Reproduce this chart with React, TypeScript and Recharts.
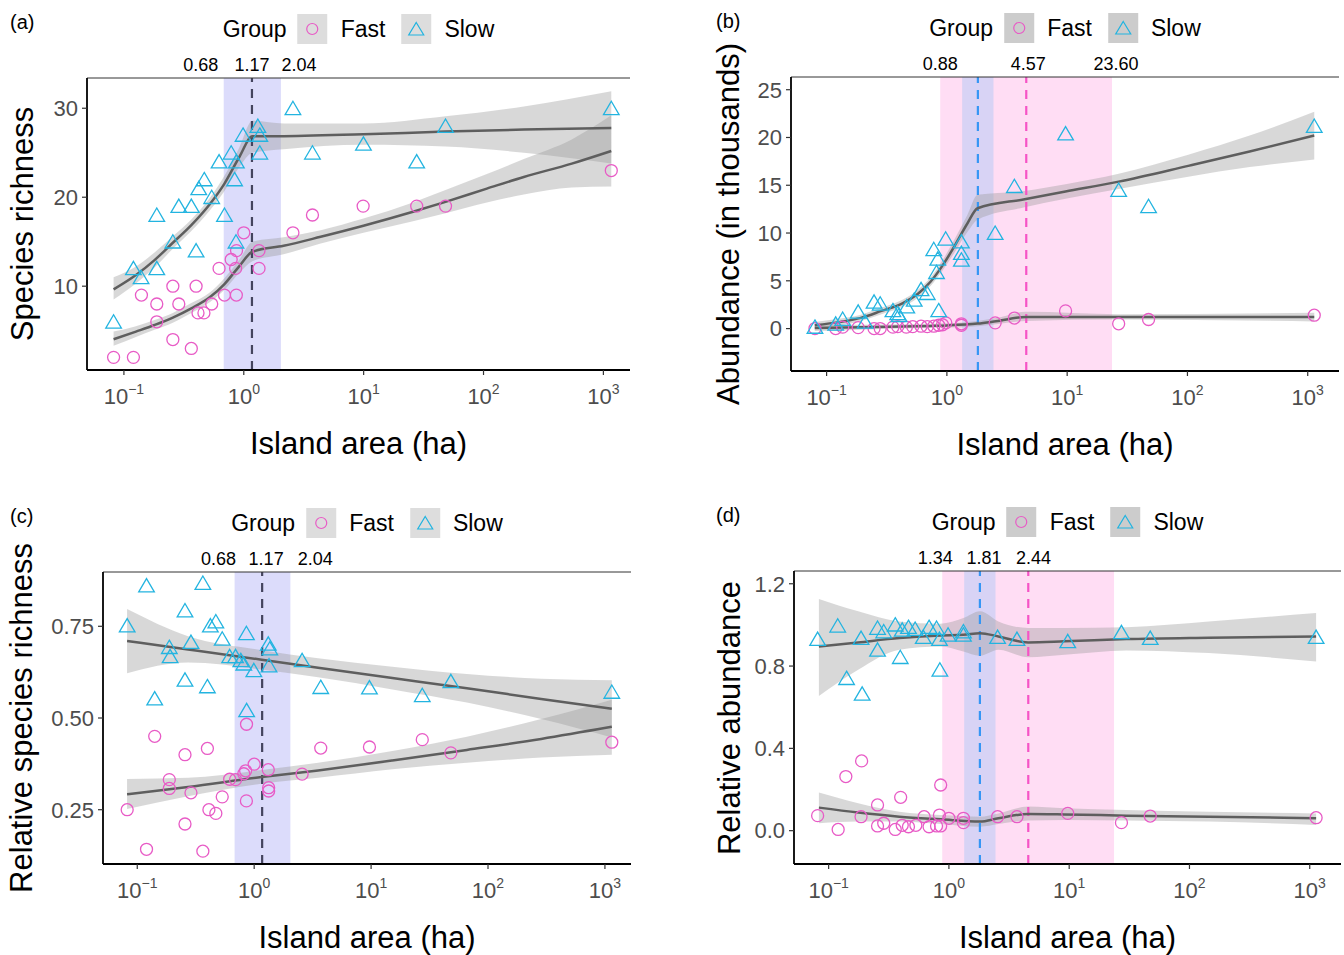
import React from 'react'
import { ComposedChart, Scatter, Line, Area, XAxis, YAxis, ReferenceArea, ReferenceLine } from 'recharts'

const FONT = '"Liberation Sans", Arial, Helvetica, sans-serif'
const FAST = '#E85BC6'
const SLOW = '#23B4E0'
const FIT = '#5E5E5E'

const xTicks = [0.1, 1, 10, 100, 1000]
const richTicks = [10, 20, 30]
const abunTicks = [0, 5, 10, 15, 20, 25]
const relRichTicks = [0.25, 0.5, 0.75]
const relAbunTicks = [0, 0.4, 0.8, 1.2]

// breakpoints (ha): lower CI, estimate, upper CI
const bpRich = [0.68, 1.17, 2.04]
const bpAbunSlow = [1.34, 1.81, 2.44]
const bpAbunFast = [0.88, 4.57, 23.6]

// [island area (ha), value]
const richFast: [number, number][] = [
  [0.082, 2], [0.12, 2], [0.14, 9], [0.188, 8], [0.188, 6], [0.256, 10], [0.256, 4], [0.287, 8],
  [0.365, 3], [0.4, 10], [0.415, 7], [0.465, 7], [0.54, 8], [0.622, 12], [0.69, 9], [0.785, 13],
  [0.855, 12], [0.867, 9], [0.87, 14], [1.0, 16], [1.34, 14], [1.34, 12], [2.57, 16], [3.74, 18],
  [9.9, 19], [27.7, 19], [48.2, 19], [1164, 23],
]
const richSlow: [number, number][] = [
  [0.082, 6], [0.12, 12], [0.139, 11], [0.188, 18], [0.188, 12], [0.256, 15], [0.287, 19], [0.365, 19],
  [0.4, 14], [0.421, 21], [0.468, 22], [0.54, 20], [0.622, 24], [0.69, 18], [0.785, 25], [0.838, 22],
  [0.861, 15], [0.867, 24], [0.986, 27], [1.31, 28], [1.36, 27], [1.36, 25], [2.57, 30], [3.74, 25],
  [9.96, 26], [27.7, 24], [48.2, 28], [1164, 30],
]
const abunFast: [number, number][] = [
  [0.08, 0.0], [0.119, 0.0], [0.136, 0.15], [0.183, 0.1], [0.248, 0.0], [0.279, 0.0], [0.356, 0.15],
  [0.39, 0.2], [0.46, 0.15], [0.52, 0.2], [0.61, 0.25], [0.687, 0.2], [0.778, 0.25], [0.855, 0.35],
  [0.92, 0.4], [0.98, 0.6], [1.32, 0.5], [1.32, 0.35], [2.52, 0.6], [3.64, 1.1], [9.7, 1.85],
  [26.8, 0.5], [47.5, 0.95], [1133, 1.4],
]
const abunSlow: [number, number][] = [
  [0.08, 0.17], [0.119, 0.5], [0.136, 1.0], [0.183, 1.75], [0.209, 0.7], [0.248, 2.8], [0.279, 2.6],
  [0.356, 1.9], [0.39, 1.6], [0.4, 1.4], [0.464, 2.3], [0.535, 3.0], [0.61, 4.1], [0.687, 3.7],
  [0.778, 8.3], [0.82, 5.9], [0.84, 7.3], [0.855, 1.9], [0.977, 9.4], [1.32, 9.1], [1.32, 7.9],
  [1.32, 7.2], [2.52, 10.0], [3.64, 14.9], [9.7, 20.4], [26.8, 14.5], [47.5, 12.8], [1133, 21.2],
]
const relRichFast: [number, number][] = [
  [0.082, 0.25], [0.12, 0.142], [0.141, 0.45], [0.188, 0.332], [0.188, 0.308], [0.256, 0.4],
  [0.256, 0.211], [0.288, 0.296], [0.364, 0.137], [0.398, 0.417], [0.41, 0.25], [0.47, 0.24],
  [0.533, 0.285], [0.617, 0.333], [0.693, 0.332], [0.815, 0.348], [0.845, 0.356], [0.858, 0.274],
  [0.86, 0.483], [1.0, 0.374], [1.32, 0.359], [1.33, 0.31], [1.33, 0.301], [2.57, 0.347],
  [3.71, 0.418], [9.68, 0.421], [27.4, 0.441], [48.1, 0.405], [1145, 0.434],
]
const relRichSlow: [number, number][] = [
  [0.082, 0.752], [0.12, 0.861], [0.141, 0.553], [0.188, 0.693], [0.191, 0.668], [0.256, 0.793],
  [0.288, 0.707], [0.256, 0.604], [0.364, 0.868], [0.398, 0.586], [0.422, 0.752], [0.47, 0.763],
  [0.533, 0.716], [0.617, 0.668], [0.693, 0.668], [0.769, 0.657], [0.815, 0.648], [0.858, 0.731],
  [0.862, 0.521], [0.993, 0.63], [1.32, 0.702], [1.36, 0.689], [1.34, 0.643], [2.57, 0.657],
  [3.71, 0.584], [9.68, 0.583], [27.4, 0.562], [48.1, 0.6], [1145, 0.571],
]
const relAbunFast: [number, number][] = [
  [0.081, 0.073], [0.12, 0.006], [0.139, 0.263], [0.186, 0.068], [0.188, 0.339], [0.255, 0.125],
  [0.255, 0.023], [0.287, 0.036], [0.358, 0.006], [0.397, 0.162], [0.409, 0.026], [0.461, 0.019],
  [0.531, 0.026], [0.622, 0.068], [0.684, 0.019], [0.789, 0.023], [0.834, 0.076], [0.854, 0.222],
  [0.854, 0.023], [1.0, 0.06], [1.32, 0.06], [1.32, 0.039], [2.54, 0.068], [3.68, 0.068],
  [9.73, 0.084], [27.2, 0.039], [47.2, 0.071], [1130, 0.063],
]
const relAbunSlow: [number, number][] = [
  [0.081, 0.931], [0.119, 0.996], [0.141, 0.741], [0.186, 0.936], [0.19, 0.665], [0.255, 0.985],
  [0.255, 0.879], [0.287, 0.968], [0.358, 1.001], [0.394, 0.843], [0.409, 0.976], [0.461, 0.989],
  [0.524, 0.98], [0.612, 0.941], [0.684, 0.989], [0.789, 0.985], [0.834, 0.931], [0.841, 0.782],
  [0.984, 0.952], [1.32, 0.968], [1.32, 0.952], [2.54, 0.941], [3.68, 0.931], [9.73, 0.92],
  [27.2, 0.964], [47.2, 0.936], [1130, 0.941],
]

// fitted segmented curves: [area, fit, lower, upper]
const richFastFit = [
  [0.082, 4.04, 3.3, 4.9], [0.126, 4.9, 4.3, 5.5], [0.18, 5.64, 5.1, 6.2], [0.256, 6.47, 5.9, 7.0],
  [0.365, 7.51, 7.0, 8.1], [0.52, 8.75, 8.2, 9.3], [0.69, 10.24, 9.6, 10.9], [0.918, 12.26, 11.5, 13.0],
  [1.18, 13.87, 12.8, 15.0], [2.15, 14.54, 13.6, 15.5], [4.38, 15.55, 14.8, 16.3], [9.96, 16.79, 16.0, 17.6],
  [25.8, 18.36, 17.3, 19.4], [48.2, 19.48, 18.2, 20.8], [106.6, 20.97, 19.4, 22.6], [216.8, 22.28, 20.3, 24.3],
  [545, 23.78, 21.1, 26.5], [1164, 25.2, 21.2, 29.2],
]
const richSlowFit = [
  [0.082, 9.64, 8.5, 11.0], [0.126, 11.25, 10.3, 12.2], [0.18, 12.93, 12.1, 13.8], [0.256, 14.88, 14.2, 15.6],
  [0.365, 16.86, 16.2, 17.5], [0.52, 19.21, 18.5, 19.9], [0.69, 21.53, 20.7, 22.4], [0.918, 24.52, 23.4, 25.6],
  [1.18, 26.84, 25.0, 28.6], [2.15, 26.86, 25.4, 28.3], [9.96, 27.07, 25.9, 28.3], [48.2, 27.38, 25.7, 29.1],
  [217, 27.6, 25.0, 30.2], [1164, 27.78, 23.8, 31.9],
]
const abunFastFit = [
  [0.0797, 0.07, -0.25, 0.4], [0.193, 0.14, -0.12, 0.4], [0.423, 0.22, 0.0, 0.44], [0.731, 0.28, 0.06, 0.5],
  [1.0, 0.33, 0.1, 0.56], [1.8, 0.52, 0.25, 0.8], [2.56, 0.77, 0.45, 1.1], [4.57, 1.22, 0.8, 1.75],
  [26.8, 1.2, 0.95, 1.5], [1133, 1.2, 0.75, 1.65],
]
const abunSlowFit = [
  [0.0797, 0.35, 0.0, 0.7], [0.1305, 0.7, 0.35, 1.05], [0.193, 1.12, 0.8, 1.45], [0.286, 1.85, 1.5, 2.2],
  [0.423, 2.62, 2.25, 3.0], [0.578, 3.67, 3.25, 4.1], [0.731, 4.9, 4.45, 5.35], [0.925, 6.64, 6.1, 7.2],
  [1.17, 8.74, 8.05, 9.45], [1.48, 11.0, 10.1, 11.9], [1.8, 12.59, 11.4, 14.0], [4.43, 13.53, 12.7, 14.4],
  [9.69, 14.34, 13.6, 15.1], [26.8, 15.38, 14.6, 16.2], [101.6, 17.03, 15.9, 18.2], [329, 18.53, 16.9, 20.2],
  [1133, 20.21, 17.7, 22.7],
]
const relRichFastFit = [
  [0.0818, 0.292, 0.252, 0.334], [0.272, 0.312, 0.287, 0.337], [1.158, 0.339, 0.321, 0.358],
  [3.52, 0.357, 0.337, 0.378], [15.2, 0.384, 0.36, 0.41], [65.9, 0.413, 0.378, 0.449],
  [285, 0.443, 0.392, 0.497], [1145, 0.476, 0.4, 0.55],
]
const relRichSlowFit = [
  [0.0818, 0.71, 0.622, 0.797], [0.272, 0.687, 0.651, 0.723], [1.158, 0.659, 0.632, 0.685],
  [3.52, 0.637, 0.611, 0.663], [15.2, 0.609, 0.578, 0.64], [65.9, 0.581, 0.542, 0.62],
  [285, 0.552, 0.497, 0.607], [1145, 0.525, 0.447, 0.603],
]
const relAbunFastFit = [
  [0.083, 0.112, 0.036, 0.185], [0.176, 0.088, 0.044, 0.133], [0.387, 0.068, 0.044, 0.092],
  [0.853, 0.055, 0.032, 0.076], [1.81, 0.044, 0.019, 0.068], [2.58, 0.06, 0.032, 0.084],
  [4.56, 0.081, 0.049, 0.117], [9.14, 0.079, 0.052, 0.109], [29.9, 0.073, 0.049, 0.101],
  [145, 0.068, 0.044, 0.092], [1130, 0.06, 0.028, 0.084],
]
const relAbunSlowFit = [
  [0.083, 0.895, 0.655, 1.126], [0.176, 0.915, 0.782, 1.066], [0.387, 0.936, 0.879, 1.017],
  [0.853, 0.949, 0.895, 1.006], [1.32, 0.952, 0.871, 1.033], [1.81, 0.96, 0.85, 1.066],
  [2.58, 0.944, 0.879, 1.017], [4.56, 0.915, 0.843, 0.985], [9.14, 0.92, 0.855, 0.985],
  [29.9, 0.931, 0.876, 0.989], [145, 0.938, 0.863, 1.017], [1130, 0.944, 0.822, 1.058],
]

const pts = (a: [number, number][]) => a.map(([x, y]) => ({ x, y }))
const fit = (a: number[][]) => a.map(([x, f, lo, hi]) => ({ x, fit: f, band: [lo, hi] }))

const FastDot = (p: any) => <circle cx={p.cx} cy={p.cy} r={6} fill="none" stroke={FAST} strokeWidth={1.3} />
const SlowDot = (p: any) => (
  <polygon points={`${p.cx},${p.cy - 7} ${p.cx + 7.8},${p.cy + 6.3} ${p.cx - 7.8},${p.cy + 6.3}`}
    fill="none" stroke={SLOW} strokeWidth={1.3} />
)

function PowTick({ x, y, payload }: any) {
  const e = Math.round(Math.log10(payload.value))
  return (
    <text x={x} y={y} textAnchor="middle" fill="#4D4D4D" fontSize={22} fontFamily={FONT}>
      <tspan dy={27}>10</tspan>
      <tspan dy={-10.5} fontSize={14}>{e < 0 ? '\u2212' + -e : String(e)}</tspan>
    </text>
  )
}

const topTick = (shift: number[]) => ({ x, y, payload, index }: any) => (
  <text x={x + shift[index]} y={y - 7} textAnchor="middle" fill="#000" fontSize={18} fontFamily={FONT}>
    {payload.value.toFixed(2)}
  </text>
)

function GroupLegend({ cx, cy, keyFill }: { cx: number; cy: number; keyFill: string }) {
  return (
    <div style={{ position: 'absolute', left: cx, top: cy, transform: 'translate(-50%,-50%)', display: 'flex', alignItems: 'center', fontSize: 23, whiteSpace: 'nowrap', lineHeight: 1 }}>
      <span>Group</span>
      <svg width={30} height={30} style={{ marginLeft: 11, background: keyFill }}>
        <circle cx={15} cy={15} r={5.5} fill="none" stroke={FAST} strokeWidth={1.2} />
      </svg>
      <span style={{ marginLeft: 13 }}>Fast</span>
      <svg width={30} height={30} style={{ marginLeft: 16, background: keyFill }}>
        <polygon points="15,8.5 22.5,21 7.5,21" fill="none" stroke={SLOW} strokeWidth={1.2} />
      </svg>
      <span style={{ marginLeft: 13 }}>Slow</span>
    </div>
  )
}

interface PanelProps {
  letter: string
  letterX: number
  titleX: number
  box: { l: number; t: number; r: number; b: number }
  xExp: [number, number]
  yDomain: [number, number]
  yTicks: number[]
  yFmt: (v: number) => string
  yTitle: string
  fast: [number, number][]
  slow: [number, number][]
  fastFit: number[][]
  slowFit: number[][]
  labels: number[]
  labelShift: number[]
  twoBreaks: boolean
  keyFill: string
}

function Panel(p: PanelProps) {
  const { l, t, r, b } = p.box
  const w = r - l + 90
  const h = b - t + 120
  const domain = [Math.pow(10, p.xExp[0]), Math.pow(10, p.xExp[1])]
  const cx = (l + r) / 2
  return (
    <>
      <div style={{ position: 'absolute', left: l - 80, top: t - 40 }}>
        <ComposedChart width={w} height={h} margin={{ top: 10, right: 10, bottom: 30, left: 10 }}>
          <XAxis dataKey="x" type="number" scale="log" domain={domain} allowDataOverflow ticks={xTicks} interval={0}
            height={50} tick={<PowTick />} tickSize={5} tickMargin={2}
            axisLine={{ stroke: '#000', strokeWidth: 1.8 }} tickLine={{ stroke: '#333', strokeWidth: 1.2 }} />
          <XAxis xAxisId="top" orientation="top" dataKey="x" type="number" scale="log" domain={domain} allowDataOverflow
            ticks={p.labels} interval={0} height={30} axisLine={{ stroke: '#333', strokeWidth: 1 }} tickLine={false}
            tickSize={0} tickMargin={0} tick={topTick(p.labelShift)} />
          <YAxis type="number" domain={p.yDomain} allowDataOverflow ticks={p.yTicks} interval={0} width={70}
            tickFormatter={p.yFmt} tickSize={5} tickMargin={4}
            tick={{ fontSize: 22, fill: '#4D4D4D', fontFamily: FONT }}
            axisLine={{ stroke: '#000', strokeWidth: 1.8 }} tickLine={{ stroke: '#333', strokeWidth: 1.2 }} />
          <YAxis yAxisId="right" orientation="right" type="number" domain={p.yDomain} allowDataOverflow width={0}
            tick={false} tickLine={false} axisLine={{ stroke: '#333', strokeWidth: 1 }} />
          {p.twoBreaks ? (
            <>
              <ReferenceArea x1={bpAbunFast[0]} x2={bpAbunFast[2]} fill="#FFDDF4" fillOpacity={1} stroke="none" />
              <ReferenceArea x1={bpAbunSlow[0]} x2={bpAbunSlow[2]} fill="#D8D3F5" fillOpacity={1} stroke="none" />
            </>
          ) : (
            <ReferenceArea x1={bpRich[0]} x2={bpRich[2]} fill="#DCDCFB" fillOpacity={1} stroke="none" />
          )}
          <Area data={fit(p.slowFit)} dataKey="band" type="monotone" stroke="none" fill="#999999" fillOpacity={0.38} isAnimationActive={false} />
          <Area data={fit(p.fastFit)} dataKey="band" type="monotone" stroke="none" fill="#999999" fillOpacity={0.38} isAnimationActive={false} />
          {p.twoBreaks ? (
            <>
              <ReferenceLine x={bpAbunSlow[1]} stroke="#3596F5" strokeWidth={2.2} strokeDasharray="9 7" />
              <ReferenceLine x={bpAbunFast[1]} stroke="#F653C6" strokeWidth={2.2} strokeDasharray="9 7" />
            </>
          ) : (
            <ReferenceLine x={bpRich[1]} stroke="#44445E" strokeWidth={2.2} strokeDasharray="9 7" />
          )}
          <Line data={fit(p.slowFit)} dataKey="fit" type="monotone" stroke={FIT} strokeWidth={2.5} dot={false} isAnimationActive={false} />
          <Line data={fit(p.fastFit)} dataKey="fit" type="monotone" stroke={FIT} strokeWidth={2.5} dot={false} isAnimationActive={false} />
          <Scatter data={pts(p.fast)} dataKey="y" shape={FastDot} isAnimationActive={false} />
          <Scatter data={pts(p.slow)} dataKey="y" shape={SlowDot} isAnimationActive={false} />
        </ComposedChart>
      </div>
      <div style={{ position: 'absolute', left: p.letterX, top: t - 66, fontSize: 20, lineHeight: 1 }}>{p.letter}</div>
      <GroupLegend cx={cx} cy={t - 49} keyFill={p.keyFill} />
      <div style={{ position: 'absolute', left: cx, top: b + 73, transform: 'translate(-50%,-50%)', fontSize: 31, whiteSpace: 'nowrap', lineHeight: 1 }}>
        Island area (ha)
      </div>
      <div style={{ position: 'absolute', left: p.titleX, top: (t + b) / 2, transform: 'translate(-50%,-50%) rotate(-90deg)', fontSize: 31, whiteSpace: 'nowrap', lineHeight: 1 }}>
        {p.yTitle}
      </div>
    </>
  )
}

export default function App() {
  return (
    <div style={{ position: 'absolute', left: 0, top: 0, width: 1344, height: 955, background: '#fff', fontFamily: FONT, color: '#000', overflow: 'hidden' }}>
      <Panel letter="(a)" letterX={10} titleX={22} box={{ l: 87, t: 78, r: 630, b: 370 }} xExp={[-1.308, 3.222]} yDomain={[0.58, 33.4]}
        yTicks={richTicks} yFmt={v => String(v)} yTitle="Species richness"
        fast={richFast} slow={richSlow} fastFit={richFastFit} slowFit={richSlowFit}
        labels={bpRich} labelShift={[-23, 0, 18]} twoBreaks={false} keyFill="#DDDDDD" />
      <Panel letter="(b)" letterX={716} titleX={728} box={{ l: 791, t: 77, r: 1339, b: 371 }} xExp={[-1.296, 3.26]} yDomain={[-4.44, 26.33]}
        yTicks={abunTicks} yFmt={v => String(v)} yTitle="Abundance (in thousands)"
        fast={abunFast} slow={abunSlow} fastFit={abunFastFit} slowFit={abunSlowFit}
        labels={bpAbunFast} labelShift={[0, 2, 4]} twoBreaks keyFill="#CCCCCC" />
      <Panel letter="(c)" letterX={10} titleX={21} box={{ l: 103, t: 572, r: 631, b: 864 }} xExp={[-1.293, 3.223]} yDomain={[0.102, 0.898]}
        yTicks={relRichTicks} yFmt={v => v.toFixed(2)} yTitle="Relative species richness"
        fast={relRichFast} slow={relRichSlow} fastFit={relRichFastFit} slowFit={relRichSlowFit}
        labels={bpRich} labelShift={[-16, 4, 25]} twoBreaks={false} keyFill="#DDDDDD" />
      <Panel letter="(d)" letterX={716} titleX={729} box={{ l: 794, t: 571, r: 1341, b: 864 }} xExp={[-1.288, 3.26]} yDomain={[-0.162, 1.262]}
        yTicks={relAbunTicks} yFmt={v => v.toFixed(1)} yTitle="Relative abundance"
        fast={relAbunFast} slow={relAbunSlow} fastFit={relAbunFastFit} slowFit={relAbunSlowFit}
        labels={bpAbunSlow} labelShift={[-29, 4, 38]} twoBreaks keyFill="#CCCCCC" />
    </div>
  )
}
